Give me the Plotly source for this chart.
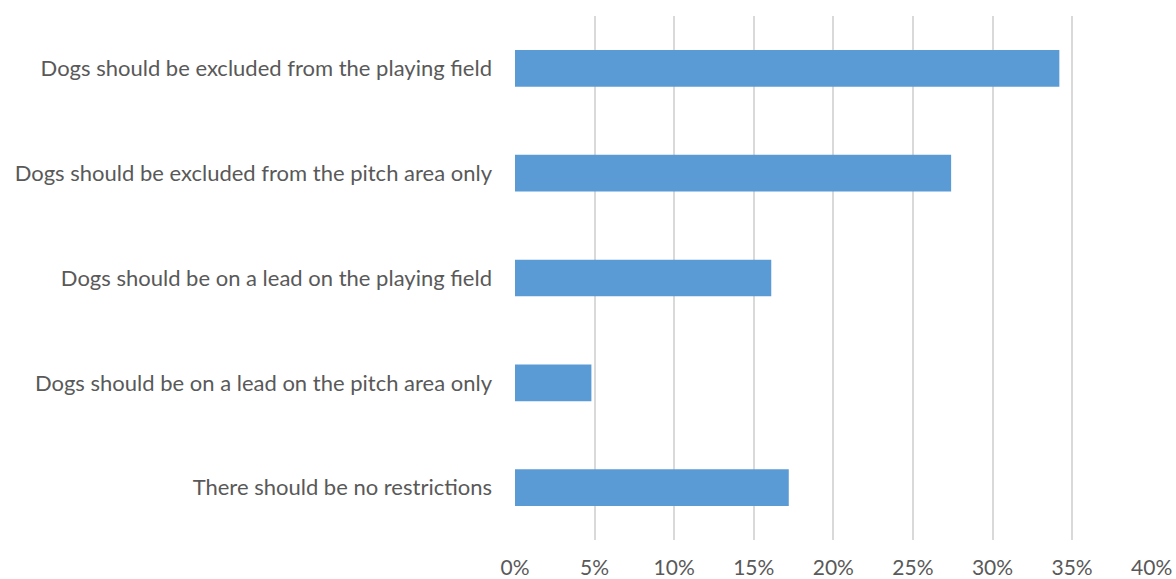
import plotly.graph_objects as go

# Survey responses (share of respondents)
categories = [
    "Dogs should be excluded from the playing field",
    "Dogs should be excluded from the pitch area only",
    "Dogs should be on a lead on the playing field",
    "Dogs should be on a lead on the pitch area only",
    "There should be no restrictions",
]
shares = [0.342, 0.274, 0.161, 0.048, 0.172]
x_ticks = [0, 0.05, 0.10, 0.15, 0.20, 0.25, 0.30, 0.35, 0.40]

font_family = "Lato, 'Open Sans', sans-serif"
text_color = "#595959"

fig = go.Figure()
fig.add_trace(
    go.Bar(
        x=shares,
        y=categories,
        orientation='h',
        marker=dict(color='#5B9BD5', line=dict(width=0)),
        width=0.35,
        hovertemplate='%{y}: %{x:.1%}<extra></extra>',
    )
)

fig.update_layout(
    width=1176,
    height=579,
    margin=dict(l=515, r=24, t=16, b=39, autoexpand=False),
    plot_bgcolor='white',
    paper_bgcolor='white',
    showlegend=False,
    font=dict(family=font_family, size=22, color=text_color),
    xaxis=dict(
        range=[0, 0.4002],
        tickvals=x_ticks,
        tickformat='.0%',
        showgrid=True,
        gridcolor='#D9D9D9',
        gridwidth=1.5,
        zeroline=False,
        showline=False,
        ticks='',
        automargin=False,
        ticklabelstandoff=13,
        tickfont=dict(size=21, color=text_color),
    ),
    yaxis=dict(
        autorange='reversed',
        showgrid=False,
        zeroline=False,
        showline=False,
        ticks='',
        automargin=False,
        ticklabelstandoff=22,
        tickfont=dict(size=22, color=text_color),
    ),
)

# drop the default body margin so the figure fills the window exactly
fig.write_html(
    "out.html",
    config={'displayModeBar': False},
    post_script="document.body.style.margin='0';",
)
